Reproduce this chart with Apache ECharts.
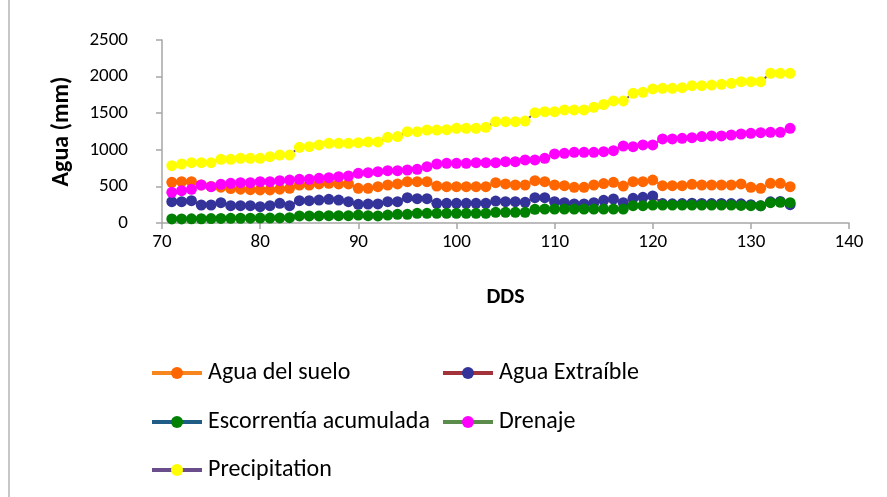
<!DOCTYPE html>
<html>
<head>
<meta charset="utf-8">
<script src="https://cdn.jsdelivr.net/npm/echarts@6/dist/echarts.min.js"></script>
<style>
  html, body { margin: 0; padding: 0; background: #fff; }
  #chart { width: 887px; height: 497px; }
</style>
</head>
<body>
<div id="chart"></div>
<script>
// DDS 71..134
var dds = [];
for (var d = 71; d <= 134; d++) dds.push(d);

var aguaSuelo = [556, 564, 564, 520, 500, 490, 470, 462, 455, 452, 452, 462, 474,
  519, 519, 533, 542, 533, 533, 474, 474, 496, 519, 533, 564, 564, 564,
  505, 496, 496, 496, 496, 496, 551, 533, 519, 519, 578, 564, 519, 510, 488, 488, 519, 538,
  556, 505, 564, 564, 587, 510, 510, 510, 528, 519, 519, 519, 519, 533, 488, 474, 542, 542, 496];

var aguaExtraible = [291, 291, 305, 246, 246, 278, 237, 237, 237, 223, 237, 269, 237,
  305, 305, 314, 323, 314, 291, 255, 258, 260, 291, 291, 346, 332, 332,
  269, 269, 269, 269, 269, 269, 300, 291, 291, 282, 346, 346, 291, 278, 260, 260, 278, 310,
  328, 278, 337, 351, 369, 265, 262, 265, 270, 268, 265, 268, 265, 262, 250, 235, 290, 295, 250];

var escorrentia = [55, 55, 57, 58, 60, 62, 64, 65, 66, 67, 68, 70, 72,
  96, 96, 96, 100, 100, 100, 109, 100, 96, 109, 119, 119, 132, 132,
  132, 132, 132, 132, 132, 132, 146, 146, 146, 146, 187, 191, 191, 191, 191, 191, 191, 191,
  191, 191, 237, 237, 246, 246, 246, 246, 246, 246, 246, 246, 246, 240, 237, 237, 278, 282, 278];

var drenaje = [419, 441, 460, 519, 496, 528, 542, 551, 551, 564, 564, 578, 587,
  597, 597, 611, 619, 633, 642, 679, 687, 701, 715, 715, 724, 733, 769,
  806, 815, 815, 815, 824, 824, 824, 838, 838, 861, 861, 884, 943, 952, 966, 966, 966, 974,
  988, 1052, 1042, 1066, 1066, 1148, 1148, 1157, 1166, 1180, 1189, 1189, 1202, 1216, 1225, 1234, 1239, 1239, 1293];

var precipitation = [783, 806, 824, 824, 824, 870, 870, 884, 884, 884, 906, 929, 929,
  1034, 1042, 1066, 1089, 1089, 1089, 1097, 1107, 1107, 1171, 1180, 1248, 1248, 1270,
  1270, 1275, 1293, 1293, 1293, 1307, 1384, 1384, 1384, 1393, 1507, 1521, 1521, 1544, 1544, 1544, 1580, 1619,
  1667, 1667, 1772, 1786, 1831, 1840, 1840, 1849, 1876, 1876, 1885, 1895, 1908, 1930, 1930, 1930, 2045, 2045, 2045];

var seriesNames = ['Agua del suelo', 'Agua Extraíble', 'Escorrentía acumulada', 'Drenaje', 'Precipitation'];
var seriesData = [aguaSuelo, aguaExtraible, escorrentia, drenaje, precipitation];
var markerColors = ['#ff6600', '#333399', '#008000', '#ff00ff', '#ffff00'];
var lineColors = ['#f7861f', '#a2333b', '#1f5c86', '#5b8c4b', '#6a4e8c'];

var font = 'Carlito, Lato, sans-serif';

function pairs(arr) {
    return arr.map(function (v, i) { return [dds[i], v]; });
}

var series = [];
for (var i = 0; i < seriesNames.length; i++) {
    series.push({
        name: seriesNames[i],
        type: 'line',
        data: pairs(seriesData[i]),
        symbol: 'circle',
        symbolSize: 11,
        showAllSymbol: true,
        animation: false,
        lineStyle: { color: lineColors[i], width: 2 },
        itemStyle: { color: markerColors[i], borderWidth: 0 }
    });
}

// legend placement (two columns like the original)
var legendPos = [[150, 370], [441, 370], [150, 419], [441, 419], [150, 467]];
var legends = legendPos.map(function (p, i) {
    return {
        data: [seriesNames[i]],
        left: p[0],
        top: p[1] - 9,
        padding: 0,
        itemWidth: 50,
        itemHeight: 15,
        itemGap: 0,
        selectedMode: false,
        lineStyle: { width: 4 },
        textStyle: { fontFamily: font, fontSize: 24, color: '#000', padding: [0, 0, 0, 1] }
    };
});

var chart = echarts.init(document.getElementById('chart'));
chart.setOption({
    backgroundColor: '#fff',
    animation: false,
    grid: { left: 162, right: 38, top: 40, bottom: 274 },
    legend: legends,
    graphic: [{
        type: 'line',
        shape: { x1: 9, y1: 0, x2: 9, y2: 497 },
        style: { stroke: '#b4b4b4', lineWidth: 1.5 }
    }],
    xAxis: {
        type: 'value',
        min: 70, max: 140, interval: 10,
        name: 'DDS',
        nameLocation: 'middle',
        nameGap: 63,
        nameTextStyle: { fontFamily: font, fontSize: 22, fontWeight: 'bold', color: '#000' },
        axisLine: { lineStyle: { color: '#a6a6a6', width: 1.5 } },
        axisTick: { show: true, length: 6, lineStyle: { color: '#a6a6a6', width: 1.5 } },
        axisLabel: { fontFamily: font, fontSize: 19, color: '#000', margin: 10 },
        splitLine: { show: false }
    },
    yAxis: {
        type: 'value',
        min: 0, max: 2500, interval: 500,
        name: 'Agua (mm)',
        nameLocation: 'middle',
        nameRotate: 90,
        nameGap: 88,
        nameTextStyle: { fontFamily: font, fontSize: 24, fontWeight: 'bold', color: '#000' },
        axisLine: { show: true, lineStyle: { color: '#a6a6a6', width: 1.5 } },
        axisTick: { show: true, length: 6, lineStyle: { color: '#a6a6a6', width: 1.5 } },
        axisLabel: { fontFamily: font, fontSize: 19, color: '#000', margin: 34, formatter: function (v) { return String(v); } },
        splitLine: { show: false }
    },
    series: series
});
</script>
</body>
</html>
